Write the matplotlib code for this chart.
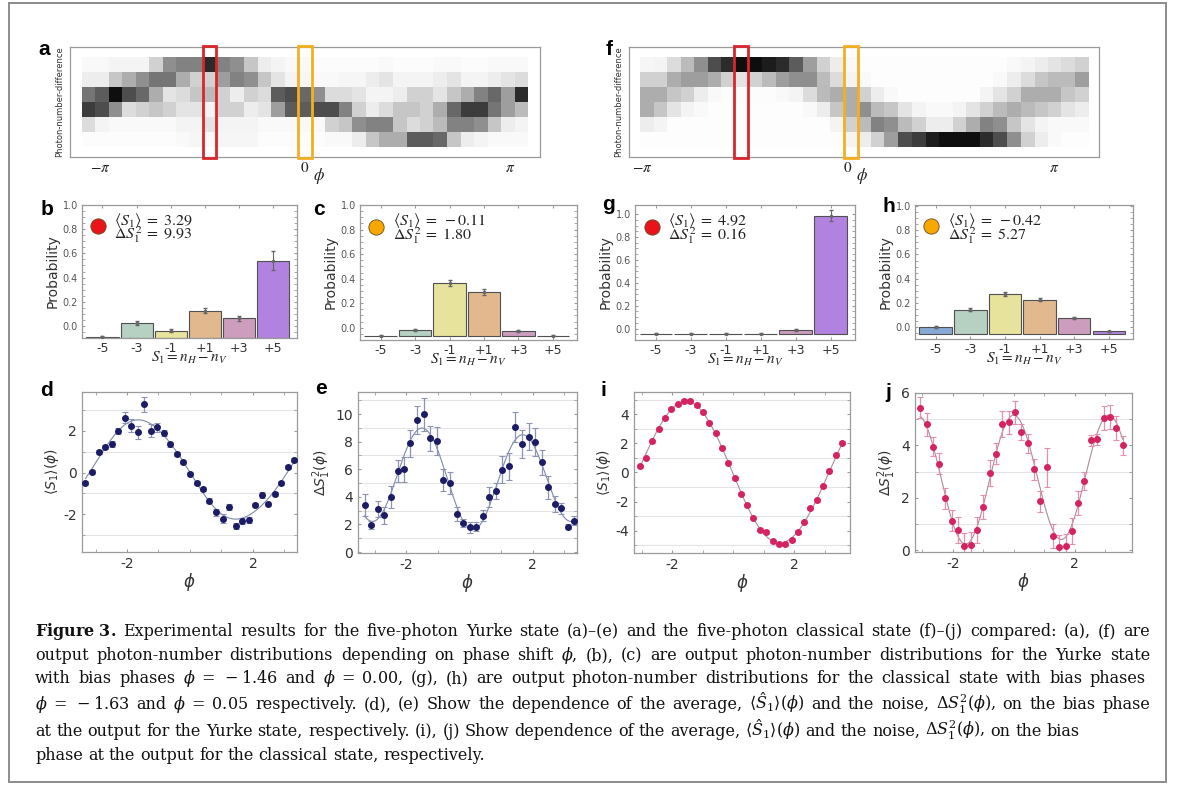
import re
import matplotlib.pyplot as plt
import matplotlib.transforms as mtransforms
from matplotlib.patches import Rectangle
import numpy as np

W, H = 1182, 785

# ---- data -------------------------------------------------------------
s1_labels = ['-5', '-3', '-1', '+1', '+3', '+5']
bar_colors = ['#86a9d6', '#b6d0c2', '#e7e39c', '#e2b98e', '#cc9dbd', '#b282e0']

phi_yurke = [-3.32, -3.11, -2.90, -2.70, -2.49, -2.28, -2.07, -1.87, -1.66, -1.45, -1.24,
             -1.04, -0.83, -0.62, -0.41, -0.21, 0.00, 0.21, 0.41, 0.62, 0.83, 1.04,
             1.24, 1.45, 1.66, 1.87, 2.07, 2.28, 2.49, 2.70, 2.90, 3.11, 3.32]
phi_classical = [-3.07, -2.86, -2.66, -2.45, -2.24, -2.03, -1.83, -1.62, -1.41, -1.20, -1.00,
                 -0.79, -0.58, -0.37, -0.17, 0.04, 0.25, 0.46, 0.66, 0.87, 1.08, 1.29,
                 1.49, 1.70, 1.91, 2.12, 2.32, 2.53, 2.74, 2.95, 3.15, 3.36, 3.57]

# photon-number-difference maps, rows S1 = +5, +3, +1, -1, -3, -5 (grey level 0..1)
heat_yurke = [
    [0.05, 0.05, 0.10, 0.10, 0.10, 0.30, 0.55, 0.60, 0.60, 0.90, 0.60, 0.55, 0.35, 0.15, 0.10, 0.05, 0.05,
     0.03, 0.03, 0.03, 0.03, 0.03, 0.05, 0.03, 0.03, 0.03, 0.05, 0.05, 0.03, 0.03, 0.05, 0.05, 0.05],
    [0.15, 0.15, 0.35, 0.45, 0.55, 0.65, 0.65, 0.45, 0.30, 0.30, 0.50, 0.60, 0.55, 0.35, 0.20, 0.10, 0.08,
     0.05, 0.05, 0.08, 0.08, 0.15, 0.20, 0.10, 0.10, 0.10, 0.15, 0.20, 0.10, 0.10, 0.15, 0.20, 0.25],
    [0.65, 0.75, 1.00, 0.80, 0.70, 0.45, 0.20, 0.25, 0.35, 0.40, 0.30, 0.15, 0.30, 0.25, 0.75, 0.80, 0.70,
     0.55, 0.25, 0.25, 0.20, 0.10, 0.10, 0.15, 0.30, 0.30, 0.20, 0.35, 0.45, 0.60, 0.70, 0.50, 0.90],
    [0.85, 0.80, 0.55, 0.25, 0.30, 0.35, 0.30, 0.20, 0.20, 0.10, 0.30, 0.30, 0.15, 0.20, 0.50, 0.75, 0.75,
     0.80, 0.80, 0.60, 0.30, 0.15, 0.25, 0.35, 0.35, 0.30, 0.45, 0.70, 0.85, 0.85, 0.65, 0.50, 0.40],
    [0.25, 0.10, 0.05, 0.05, 0.05, 0.05, 0.05, 0.10, 0.10, 0.20, 0.10, 0.10, 0.10, 0.05, 0.05, 0.05, 0.05,
     0.05, 0.30, 0.35, 0.55, 0.60, 0.60, 0.35, 0.25, 0.30, 0.40, 0.60, 0.60, 0.55, 0.35, 0.15, 0.10],
    [0.03, 0.03, 0.03, 0.03, 0.03, 0.03, 0.03, 0.05, 0.08, 0.05, 0.08, 0.08, 0.08, 0.03, 0.03, 0.03, 0.03,
     0.03, 0.05, 0.05, 0.15, 0.35, 0.45, 0.45, 0.75, 0.75, 0.70, 0.35, 0.15, 0.10, 0.05, 0.05, 0.05],
]
heat_classical = [
    [0.08, 0.10, 0.25, 0.40, 0.55, 0.80, 0.90, 1.00, 1.00, 0.95, 0.90, 0.75, 0.50, 0.30, 0.15, 0.05, 0.02,
     0.02, 0.02, 0.02, 0.02, 0.02, 0.02, 0.02, 0.02, 0.02, 0.02, 0.05, 0.10, 0.15, 0.20, 0.25, 0.30],
    [0.30, 0.30, 0.45, 0.50, 0.50, 0.45, 0.30, 0.20, 0.30, 0.40, 0.50, 0.55, 0.55, 0.40, 0.25, 0.10, 0.05,
     0.02, 0.02, 0.02, 0.02, 0.02, 0.02, 0.02, 0.02, 0.02, 0.05, 0.15, 0.25, 0.35, 0.40, 0.40, 0.50],
    [0.45, 0.45, 0.35, 0.30, 0.15, 0.05, 0.03, 0.03, 0.03, 0.03, 0.05, 0.10, 0.25, 0.40, 0.45, 0.45, 0.30,
     0.15, 0.05, 0.02, 0.02, 0.02, 0.02, 0.02, 0.02, 0.10, 0.20, 0.30, 0.45, 0.45, 0.45, 0.35, 0.30],
    [0.45, 0.35, 0.20, 0.10, 0.05, 0.02, 0.02, 0.02, 0.02, 0.02, 0.02, 0.02, 0.05, 0.15, 0.35, 0.45, 0.55,
     0.40, 0.35, 0.20, 0.10, 0.05, 0.05, 0.10, 0.20, 0.30, 0.40, 0.45, 0.40, 0.35, 0.30, 0.20, 0.15],
    [0.15, 0.10, 0.02, 0.02, 0.02, 0.02, 0.02, 0.02, 0.02, 0.02, 0.02, 0.02, 0.02, 0.02, 0.10, 0.30, 0.40,
     0.60, 0.55, 0.40, 0.30, 0.15, 0.15, 0.30, 0.45, 0.60, 0.55, 0.35, 0.20, 0.10, 0.05, 0.05, 0.05],
    [0.02, 0.02, 0.02, 0.02, 0.02, 0.02, 0.02, 0.02, 0.02, 0.02, 0.02, 0.02, 0.02, 0.02, 0.02, 0.10, 0.15,
     0.30, 0.50, 0.80, 0.85, 0.95, 1.00, 1.00, 1.00, 0.90, 0.80, 0.55, 0.30, 0.15, 0.05, 0.02, 0.02],
]
bias_yurke = [-1.46, 0.00]
bias_classical = [-1.63, 0.05]

# bar tops as read against the printed tick labels
prob_b = [-0.09, 0.022, -0.041, 0.127, 0.063, 0.54]
err_b = [0.005, 0.015, 0.012, 0.02, 0.02, 0.08]
prob_c = [-0.065, -0.02, 0.365, 0.294, -0.024, -0.065]
err_c = [0.004, 0.01, 0.025, 0.025, 0.008, 0.003]
prob_g = [-0.045, -0.045, -0.045, -0.045, -0.01, 0.986]
err_g = [0.002, 0.002, 0.002, 0.002, 0.008, 0.05]
prob_h = [0.0, 0.141, 0.275, 0.227, 0.075, -0.035]
err_h = [0.008, 0.012, 0.015, 0.012, 0.01, 0.005]

stats_b = ('3.29', '9.93')
stats_c = ('-0.11', '1.80')
stats_g = ('4.92', '0.16')
stats_h = ('-0.42', '5.27')

mean_yurke = [-0.50, 0.03, 0.98, 1.21, 1.37, 2.00, 2.63, 2.24, 1.92, 3.26, 2.00, 2.16, 1.89, 1.34,
              0.87, 0.52, -0.08, -0.49, -0.80, -1.34, -1.91, -2.20, -1.65, -2.54, -2.31, -2.28,
              -1.57, -1.07, -1.50, -1.02, -0.50, 0.27, 0.61]
mean_yurke_err = [0.1, 0.1, 0.1, 0.1, 0.15, 0.15, 0.25, 0.3, 0.3, 0.35, 0.3, 0.2, 0.15, 0.1, 0.1,
                  0.1, 0.1, 0.1, 0.1, 0.1, 0.15, 0.2, 0.15, 0.15, 0.15, 0.15, 0.1, 0.15, 0.1, 0.1,
                  0.1, 0.1, 0.1]
noise_yurke = [3.41, 1.97, 3.12, 2.66, 4.00, 5.88, 6.00, 7.87, 9.59, 10.0, 8.23, 8.03, 5.20, 5.01,
               2.73, 2.09, 1.80, 1.85, 2.64, 4.00, 4.44, 5.97, 6.21, 9.04, 7.84, 8.37, 7.96, 6.50,
               4.68, 3.48, 3.19, 1.85, 2.28]
noise_yurke_err = [0.8, 0.3, 0.6, 0.6, 0.8, 0.8, 0.9, 1.0, 1.0, 1.2, 0.9, 1.0, 0.8, 0.8, 0.5, 0.3,
                   0.4, 0.3, 0.4, 0.7, 0.6, 1.0, 1.0, 1.1, 1.0, 1.0, 1.0, 0.9, 0.8, 0.6, 0.4, 0.2,
                   0.3]
mean_classical = [0.44, 1.00, 2.16, 3.03, 3.77, 4.41, 4.69, 4.92, 4.92, 4.64, 4.14, 3.43, 2.69, 1.72,
                  0.67, -0.41, -1.45, -2.25, -3.13, -3.93, -4.09, -4.74, -4.94, -4.94, -4.62,
                  -4.11, -3.40, -2.48, -1.91, -0.94, 0.11, 1.24, 2.05]
mean_classical_err = [0.1, 0.1, 0.1, 0.1, 0.1, 0.12, 0.12, 0.15, 0.15, 0.12, 0.12, 0.1, 0.1, 0.1,
                      0.1, 0.1, 0.1, 0.1, 0.1, 0.12, 0.12, 0.12, 0.15, 0.15, 0.12, 0.12, 0.1, 0.1,
                      0.1, 0.1, 0.1, 0.1, 0.1]
noise_classical = [5.43, 4.80, 3.96, 3.30, 1.99, 1.14, 0.79, 0.18, 0.20, 0.79, 1.66, 2.96, 3.68,
                   4.83, 4.88, 5.26, 4.50, 4.08, 3.09, 1.88, 3.17, 0.55, 0.13, 0.17, 0.74, 1.80,
                   2.64, 4.19, 4.23, 5.04, 5.08, 4.67, 4.00]
noise_classical_err = [0.4, 0.45, 0.35, 0.4, 0.4, 0.4, 0.5, 0.5, 0.5, 0.5, 0.45, 0.5, 0.4, 0.5,
                       0.45, 0.45, 0.3, 0.35, 0.4, 0.4, 0.75, 0.45, 0.45, 0.45, 0.5, 0.45, 0.35,
                       0.2, 0.2, 0.45, 0.45, 0.45, 0.35]

caption_lines = [
    r'$\mathbf{Figure\ 3.}$ Experimental results for the five-photon Yurke state (a)–(e) and the '
    r'five-photon classical state (f)–(j) compared: (a), (f) are',
    r'output photon-number distributions depending on phase shift $\phi$, (b), (c) are output '
    r'photon-number distributions for the Yurke state',
    r'with bias phases $\phi\;=\;-1.46$ and $\phi\;=\;0.00$, (g), (h) are output photon-number '
    r'distributions for the classical state with bias phases',
    r'$\phi\;=\;-1.63$ and $\phi\;=\;0.05$ respectively. (d), (e) Show the dependence of the average, '
    r'$\langle\hat{S}_1\rangle(\phi)$ and the noise, $\Delta S_1^2(\phi)$, on the bias phase',
    r'at the output for the Yurke state, respectively. (i), (j) Show dependence of the average, '
    r'$\langle\hat{S}_1\rangle(\phi)$ and the noise, $\Delta S_1^2(\phi)$, on the bias',
    r'phase at the output for the classical state, respectively.',
]

FRAME = '#9a9a9a'
TICK = '#555555'


def px_axes(fig, x0, y0, x1, y1):
    return fig.add_axes([x0 / W, 1 - y1 / H, (x1 - x0) / W, (y1 - y0) / H])


def style_frame(ax):
    for sp in ax.spines.values():
        sp.set_color(FRAME)
        sp.set_linewidth(0.9)


def draw_heatmap(ax, phi, heat, bias, xlim):
    phi = np.asarray(phi)
    step = np.diff(phi).mean()
    xedges = np.append(phi - step / 2, phi[-1] + step / 2)
    yedges = np.arange(-6, 7, 2)
    ax.pcolormesh(xedges, yedges, np.flipud(np.asarray(heat)), cmap='Greys', vmin=0, vmax=1.05)
    ax.set_xlim(xlim)
    ax.set_ylim(-7.3, 7.3)
    trans = mtransforms.blended_transform_factory(ax.transData, ax.transAxes)
    for b, c in zip(bias, ['#d8262c', '#f2b01e']):
        ax.add_patch(Rectangle((b - step / 2, -0.01), step, 1.02, transform=trans, fill=False,
                               edgecolor=c, lw=2, clip_on=False, zorder=5))
    ax.set_yticks([])
    ax.set_xticks([-np.pi, 0, np.pi], [r'$-\pi$', r'$0$', r'$\pi$'])
    ax.tick_params(axis='x', length=0, pad=2, labelsize=11, labelcolor='#222')
    for lab in ax.get_xticklabels():
        lab.set_math_fontfamily('stix')
    ax.annotate(r'$\phi$', xy=(0, 0), xycoords=trans, xytext=(6, -14), textcoords='offset points',
                ha='left', va='center', fontsize=12, math_fontfamily='stix', color='#222')
    ax.set_ylabel('Photon-number-difference', fontsize=6, labelpad=4, color='#333')
    style_frame(ax)


def draw_bars(ax, probs, errs, ylim, dot_color, stats):
    x = np.arange(len(s1_labels))
    probs = np.asarray(probs)
    ax.bar(x, probs - ylim[0], bottom=ylim[0], width=0.94, color=bar_colors,
           edgecolor='#505050', linewidth=0.8, zorder=2)
    ax.errorbar(x, probs, yerr=errs, fmt='.', color='#666', ms=3, capsize=1.5,
                elinewidth=0.8, zorder=3)
    ax.set_xlim(-0.6, 5.7)
    ax.set_ylim(ylim)
    ax.set_yticks([0.0, 0.2, 0.4, 0.6, 0.8, 1.0], ['0.0', '0.2', '0.4', '0.6', '0.8', '1.0'])
    ax.set_yticks(np.arange(-0.1, 1.05, 0.05), minor=True)
    ax.set_xticks(x, s1_labels)
    ax.tick_params(axis='y', which='both', direction='in', right=True, labelsize=7,
                   labelcolor=TICK, color=FRAME, length=2, pad=3)
    ax.tick_params(axis='x', direction='in', top=True, labelsize=9, labelcolor='#333',
                   color=FRAME, length=2, pad=3)
    ax.set_ylabel('Probability', fontsize=10, labelpad=2, color='#333')
    ax.set_xlabel(r'$S_1 = n_H - n_V$', fontsize=11, labelpad=-4, math_fontfamily='stix',
                  color='#222')
    ax.plot(0.075, 0.84, 'o', transform=ax.transAxes, ms=11, mfc=dot_color, mec='#6b4a20',
            mew=0.6, clip_on=False, zorder=6)
    ax.text(0.15, 0.885, r'$\langle S_1\rangle\;=\;%s$' % stats[0], transform=ax.transAxes,
            fontsize=11.5, va='center', math_fontfamily='stix', color='#222')
    ax.text(0.15, 0.775, r'$\Delta S_1^2\;=\;%s$' % stats[1], transform=ax.transAxes,
            fontsize=11.5, va='center', math_fontfamily='stix', color='#222')
    style_frame(ax)


def fourier_fit(phi, vals, nharm):
    phi = np.asarray(phi)

    def basis(t):
        cols = [np.ones_like(t)]
        for k in range(1, nharm + 1):
            cols += [np.cos(k * t), np.sin(k * t)]
        return np.column_stack(cols)

    coef = np.linalg.lstsq(basis(phi), np.asarray(vals), rcond=None)[0]
    xs = np.linspace(phi[0], phi[-1], 300)
    return xs, basis(xs) @ coef


def draw_curve(ax, phi, vals, errs, colors, xlim, ylim, yticks, grid, nharm, ylabel):
    pc, ec, lc = colors
    xs, ys = fourier_fit(phi, vals, nharm)
    for g in grid:
        ax.axhline(g, color='#e4e4e4', lw=0.8, zorder=0)
    ax.plot(xs, ys, color=lc, lw=0.8, zorder=2)
    ax.errorbar(phi, vals, yerr=errs, fmt='o', ms=4, color=pc, ecolor=ec, elinewidth=0.9,
                capsize=2, capthick=0.8, zorder=3)
    ax.set_xlim(xlim)
    ax.set_ylim(ylim)
    ax.set_xticks([-2, 2], ['-2', '2'])
    ax.set_xticks([-3, -1, 0, 1, 3], minor=True)
    ax.set_yticks(yticks, [str(v) for v in yticks])
    ax.set_yticks(grid, minor=True)
    ax.tick_params(which='both', direction='in', top=True, right=True, labelsize=10,
                   labelcolor='#333', color=FRAME, length=2.5)
    ax.set_xlabel(r'$\phi$', fontsize=12, labelpad=0, color='#333')
    ax.set_ylabel(ylabel, fontsize=10, labelpad=2, color='#333')
    style_frame(ax)


def justified_line(fig, line, y, x0, x1, **kw):
    tokens = re.findall(r'(?:\$[^$]*\$|[^\s$])+', line)
    renderer = fig.canvas.get_renderer()
    texts = [fig.text(0, 1 - y / H, t, va='baseline', ha='left', **kw) for t in tokens]
    widths = [t.get_window_extent(renderer).width for t in texts]
    if x1 is None:
        gap = 5.0
    else:
        gap = max(3.0, (x1 - x0 - sum(widths)) / (len(tokens) - 1))
    x = x0
    for t, w in zip(texts, widths):
        t.set_x(x / W)
        x += w + gap


def main():
    fig = plt.figure(figsize=(W / 100, H / 100), dpi=100)
    fig.patches.append(Rectangle((9 / W, 3 / H), 1157 / W, 779 / H, transform=fig.transFigure,
                                 fill=False, edgecolor='#8c8c8c', lw=1.4))

    ax_a = px_axes(fig, 70, 47, 540, 157)
    draw_heatmap(ax_a, phi_yurke, heat_yurke, bias_yurke, (-3.60, 3.60))
    ax_f = px_axes(fig, 629, 47, 1099, 157)
    draw_heatmap(ax_f, phi_classical, heat_classical, bias_classical, (-3.34, 3.83))

    draw_bars(px_axes(fig, 82, 205, 297, 338), prob_b, err_b, (-0.10, 1.0), '#e8131b', stats_b)
    draw_bars(px_axes(fig, 360, 205, 577, 340), prob_c, err_c, (-0.07, 1.0), '#f7a800', stats_c)
    draw_bars(px_axes(fig, 635, 205, 855, 340), prob_g, err_g, (-0.05, 1.08), '#e8131b', stats_g)
    draw_bars(px_axes(fig, 915, 205, 1133, 339), prob_h, err_h, (-0.06, 1.01), '#f7a800', stats_h)

    navy = ('#1c1c66', '#8d93b3', '#7d8aa8')
    pink = ('#d4245f', '#e58fb0', '#b08a98')
    mean_label = r'$\langle S_1\rangle(\phi)$'
    noise_label = r'$\Delta S_1^2(\phi)$'
    draw_curve(px_axes(fig, 82, 392, 297, 552), phi_yurke, mean_yurke, mean_yurke_err, navy,
               (-3.43, 3.40), (-3.8, 3.85), [-2, 0, 2], [-3, -1, 1, 3], 3, mean_label)
    draw_curve(px_axes(fig, 358, 392, 577, 553), phi_yurke, noise_yurke, noise_yurke_err, navy,
               (-3.53, 3.40), (-0.07, 11.6), [0, 2, 4, 6, 8, 10], [1, 3, 5, 7, 9, 11], 2,
               noise_label)
    draw_curve(px_axes(fig, 634, 392, 850, 553), phi_classical, mean_classical,
               mean_classical_err, pink, (-3.26, 3.83), (-5.55, 5.55), [-4, -2, 0, 2, 4],
               [-5, -3, -1, 1, 3, 5], 2, mean_label)
    draw_curve(px_axes(fig, 915, 393, 1132, 552), phi_classical, noise_classical,
               noise_classical_err, pink, (-3.24, 3.88), (-0.06, 6.0), [0, 2, 4, 6], [1, 3, 5],
               2, noise_label)

    letters = [('a', 38, 55), ('f', 606, 55), ('b', 41, 215), ('c', 313, 215), ('g', 602, 210),
               ('h', 883, 212), ('d', 40, 396), ('e', 315, 394), ('i', 601, 396),
               ('j', 885, 398)]
    for s, x, y in letters:
        fig.text(x / W, 1 - y / H, s, fontsize=15, fontweight='bold', family='Liberation Sans',
                 va='baseline', ha='left')

    baselines = [636, 660, 683, 709, 736, 760]
    right_edges = [1150, 1150, 1146, 1150, 1080, None]
    for line, y, x1 in zip(caption_lines, baselines, right_edges):
        justified_line(fig, line, y, 35, x1, fontsize=11.5, family='DejaVu Serif',
                       math_fontfamily='dejavuserif', color='#111')

    fig.savefig('out.png', dpi=100)


if __name__ == '__main__':
    main()
